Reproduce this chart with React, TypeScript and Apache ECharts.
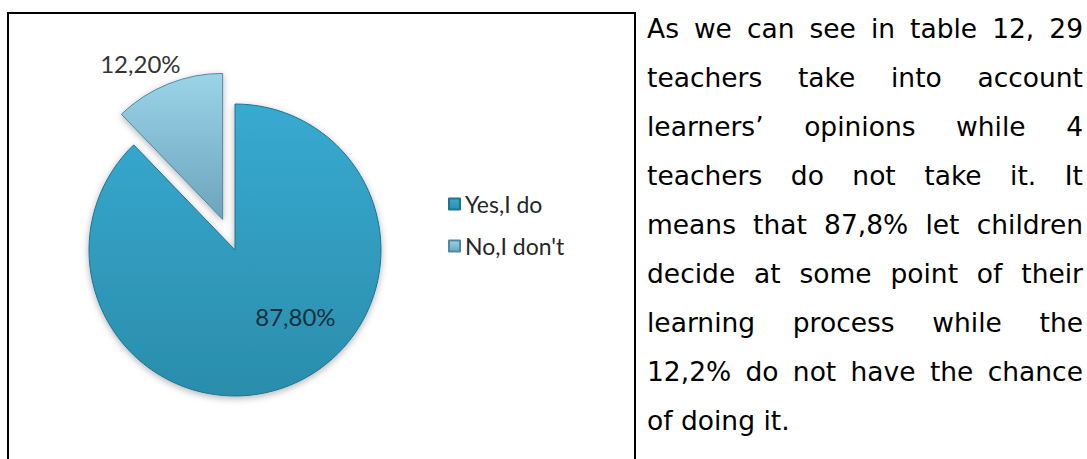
import React, { useEffect, useRef } from "react";
import * as echarts from "echarts";

const categories = ["Yes,I do", "No,I don't"];
const shares = [87.8, 12.2];
const paragraphLines = [
  "As we can see in table 12, 29",
  "teachers take into account",
  "learners\u2019 opinions while 4",
  "teachers do not take it. It",
  "means that 87,8% let children",
  "decide at some point of their",
  "learning process while the",
  "12,2% do not have the chance",
  "of doing it.",
];

const sliceColors = [
  new echarts.graphic.LinearGradient(0, 0, 0, 1, [
    { offset: 0, color: "#38aad0" },
    { offset: 1, color: "#2a8dac" },
  ]),
  new echarts.graphic.LinearGradient(0, 0, 0, 1, [
    { offset: 0, color: "#9bd3e9" },
    { offset: 1, color: "#6ca4bc" },
  ]),
];
const sliceBorders = ["#1f7391", "#5089a1"];

export default function App() {
  const ref = useRef<HTMLDivElement>(null);

  useEffect(() => {
    if (!ref.current) return;
    const chart = echarts.init(ref.current, undefined, { renderer: "svg" });
    chart.setOption({
      animation: false,
      legend: {
        orient: "vertical",
        left: 443,
        top: 186,
        icon: "rect",
        itemWidth: 11,
        itemHeight: 11,
        itemGap: 16,
        textStyle: {
          fontFamily: "Lato",
          fontSize: 23,
          lineHeight: 26,
          color: "#262626",
        },
        data: categories,
      },
      series: [
        {
          type: "pie",
          center: [235, 250],
          radius: 146,
          startAngle: 90,
          clockwise: true,
          avoidLabelOverlap: false,
          selectedMode: "single",
          selectedOffset: 33,
          label: {
            show: true,
            fontFamily: "Lato",
            fontSize: 24,
            formatter: (p: any) => p.value.toFixed(2).replace(".", ",") + "%",
          },
          labelLine: { show: false, length: 4, length2: 0 },
          labelLayout: (params: any) =>
            params.dataIndex === 0 ? { dx: 32, dy: -4 } : { dx: 19, dy: -17 },
          data: categories.map((name, i) => ({
            name,
            value: shares[i],
            selected: i === 1,
            itemStyle: {
              color: sliceColors[i],
              borderColor: sliceBorders[i],
              borderWidth: 1,
              shadowBlur: 7,
              shadowColor: "rgba(0,0,0,0.3)",
              shadowOffsetY: 2,
            },
            label:
              i === 0
                ? { position: "inside", color: "#17303d" }
                : { position: "outside", color: "#333333" },
          })),
        },
      ],
    });
    return () => chart.dispose();
  }, []);

  return (
    <div
      style={{
        position: "absolute",
        left: 0,
        top: 0,
        width: 1087,
        height: 459,
        overflow: "hidden",
        background: "#ffffff",
      }}
    >
      <div ref={ref} style={{ position: "absolute", left: 0, top: 0, width: 634, height: 459 }} />
      <div style={{ position: "absolute", left: 7, top: 12, width: 2, height: 447, background: "#000" }} />
      <div style={{ position: "absolute", left: 7, top: 12, width: 629, height: 2, background: "#000" }} />
      <div style={{ position: "absolute", left: 634, top: 12, width: 2, height: 447, background: "#000" }} />
      <div
        style={{
          position: "absolute",
          left: 647,
          top: 4,
          width: 436,
          fontFamily: "'DejaVu Sans', Verdana, sans-serif",
          fontSize: 26.5,
          lineHeight: "49px",
          color: "#000",
        }}
      >
        {paragraphLines.map((line, i) => (
          <div
            key={i}
            style={{
              whiteSpace: "nowrap",
              textAlign: i === paragraphLines.length - 1 ? "left" : "justify",
              textAlignLast: i === paragraphLines.length - 1 ? "left" : "justify",
            }}
          >
            {line}
          </div>
        ))}
      </div>
    </div>
  );
}
